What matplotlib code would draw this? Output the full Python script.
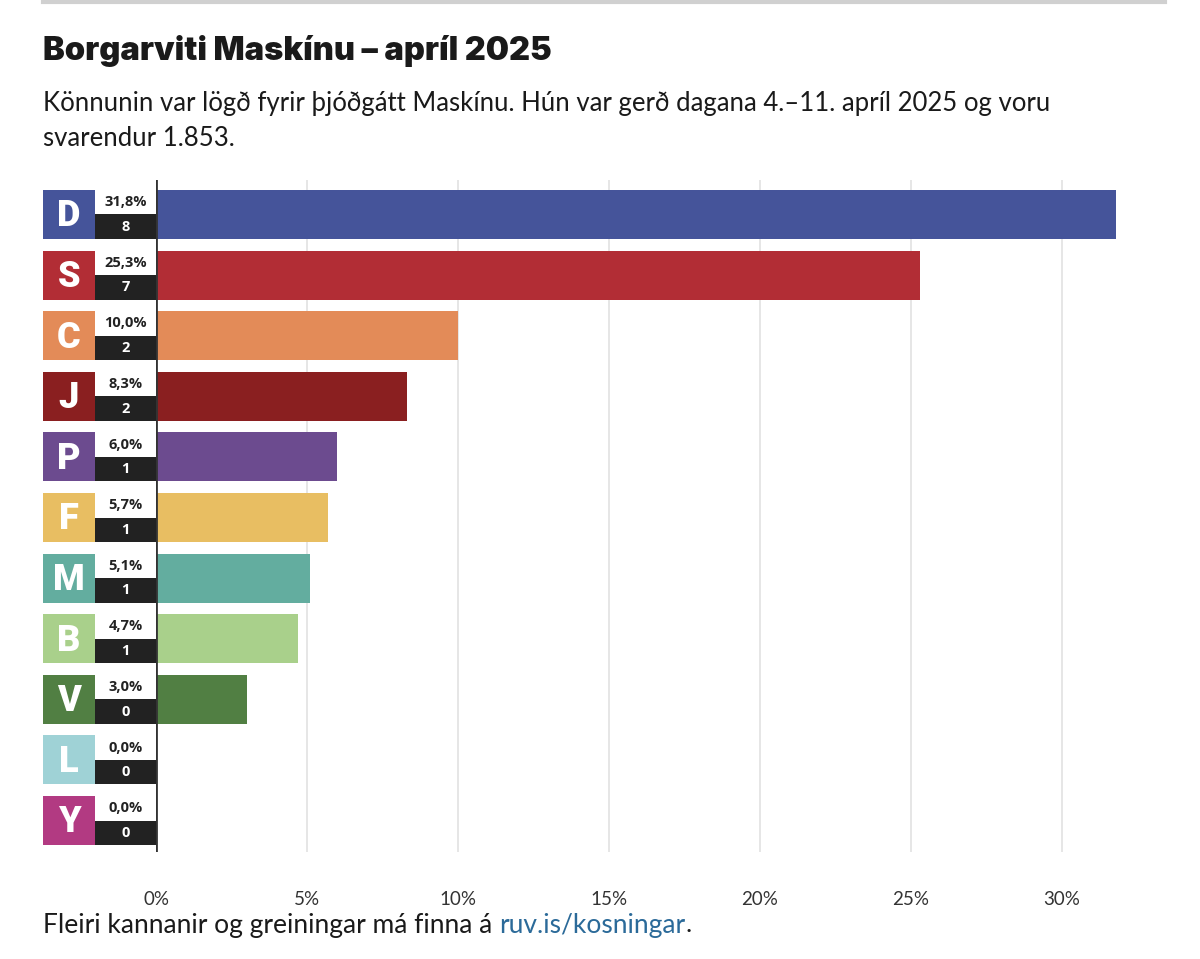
import matplotlib.pyplot as plt
import matplotlib.patches as mpatches

# data
parties = ['D', 'S', 'C', 'J', 'P', 'F', 'M', 'B', 'V', 'L', 'Y']
percent = [31.8, 25.3, 10.0, 8.3, 6.0, 5.7, 5.1, 4.7, 3.0, 0.0, 0.0]
seats = [8, 7, 2, 2, 1, 1, 1, 1, 0, 0, 0]
colors = ['#45549a', '#b22d35', '#e38b58', '#8a1f20', '#6c4b8f', '#e8be62',
          '#63ad9f', '#a9d08b', '#517f43', '#9fd2d6', '#b23a82']
ticks = [0, 5, 10, 15, 20, 25, 30]

W, H = 1200, 959
fig = plt.figure(figsize=(W / 100, H / 100), dpi=100)

# axes in pixel layout: x 156..1130, y 180..852
left, right, top, bottom = 156, 1130, 180, 852
ax = fig.add_axes([left / W, 1 - bottom / H, (right - left) / W, (bottom - top) / H])
px_per_pct = 30.2
pitch = 60.6
ax.set_xlim(0, (right - left) / px_per_pct)
ax.set_ylim((bottom - 214.5) / pitch, (top - 214.5) / pitch)

for t in ticks[1:]:
    ax.axvline(t, color='#e2e2e2', lw=1.2, zorder=0)
ax.axvline(0, color='#333333', lw=2, zorder=3)

bh = 49 / pitch
ys = list(range(len(parties)))
ax.barh(ys, percent, height=bh, color=colors, zorder=2)

x_box0 = (43 - left) / px_per_pct
x_box1 = (95 - left) / px_per_pct
for i, p in enumerate(parties):
    y0 = i - bh / 2
    ax.add_patch(mpatches.Rectangle((x_box0, y0), x_box1 - x_box0, bh,
                                    color=colors[i], clip_on=False, lw=0))
    ax.text((x_box0 + x_box1) / 2, i + 0.03, p, color='white', fontsize=26,
            fontweight='black', family='Roboto', ha='center', va='center',
            clip_on=False)
    ax.add_patch(mpatches.Rectangle((x_box1, i), -x_box1, bh / 2,
                                    color='#222222', clip_on=False, lw=0))
    ax.text(x_box1 / 2, i - bh / 4, ('%.1f%%' % percent[i]).replace('.', ','),
            fontsize=10.5, fontweight='bold', family='Open Sans', color='#222222',
            ha='center', va='center', clip_on=False)
    ax.text(x_box1 / 2, i + bh / 4, str(seats[i]), fontsize=10.5,
            fontweight='bold', family='Open Sans', color='white',
            ha='center', va='center', clip_on=False)

ax.set_xticks(ticks)
ax.set_xticklabels(['%d%%' % t for t in ticks], fontsize=13.5, color='#333333',
                   family='Lato')
ax.tick_params(axis='x', length=0, pad=28)
ax.set_yticks([])
for s in ax.spines.values():
    s.set_visible(False)

# top rule
fig.add_artist(plt.Line2D([43 / W, 1165 / W], [1 - 1.5 / H, 1 - 1.5 / H],
                          color='#d0d0d0', lw=3))

fig.text(43 / W, 1 - 51 / H, 'Borgarviti Maskínu – apríl 2025', fontsize=23.5,
         fontweight='black', family='Inter', color='#1a1a1a', va='center')
fig.text(43 / W, 1 - 104 / H, 'Könnunin var lögð fyrir þjóðgátt Maskínu. Hún var gerð dagana 4.–11. apríl 2025 og voru',
         fontsize=18.5, family='Lato', color='#1a1a1a', va='center')
fig.text(43 / W, 1 - 138 / H, 'svarendur 1.853.', fontsize=18.5, family='Lato',
         color='#1a1a1a', va='center')

t1 = fig.text(43 / W, 1 - 925 / H, 'Fleiri kannanir og greiningar má finna á ',
              fontsize=19, family='Lato', color='#1a1a1a', va='center')
fig.canvas.draw()
bb = t1.get_window_extent()
t2 = fig.text(bb.x1 / W, 1 - 925 / H, 'ruv.is/kosningar', fontsize=19,
              family='Lato', color='#2b6a99', va='center')
fig.canvas.draw()
bb2 = t2.get_window_extent()
fig.text(bb2.x1 / W, 1 - 925 / H, '.', fontsize=19, family='Lato',
         color='#1a1a1a', va='center')

fig.savefig('out.png', dpi=100)
